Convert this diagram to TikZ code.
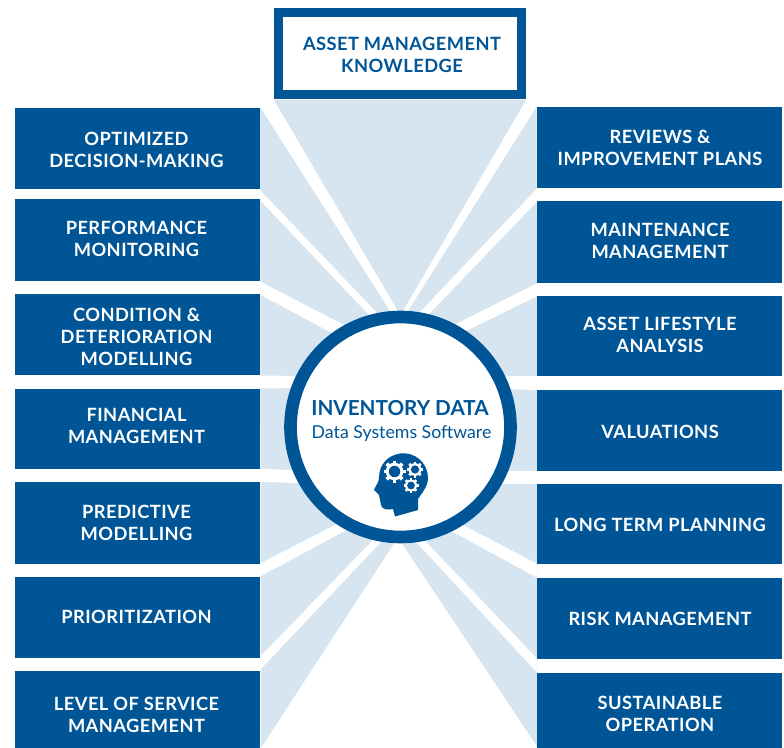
\documentclass[tikz,border=0pt]{standalone}
\usepackage{fontspec}
\setmainfont{Lato}
\newfontfamily\capsfont[LetterSpace=2.5]{Lato}
\usetikzlibrary{calc}
\definecolor{dblue}{HTML}{005596}
\definecolor{lblue}{HTML}{D6E5F0}
\newcommand{\gapstrip}[7]{\fill[white] (#1,#2) -- ($(#1,#2)!1.06!(#4,#5)$) -- ($(#1,#3)!1.06!(#6,#7)$) -- (#1,#3) -- cycle;}
\newcommand{\gearicon}[4]{%
  \begin{scope}[shift={(#1,#2)}]
    \foreach \a in {1,...,#4}{
      \fill[white,rotate=\a*360/#4] (-0.17*#3,0) rectangle (0.17*#3,#3);
    }
    \fill[white] (0,0) circle (0.8*#3);
    \fill[dblue] (0,0) circle (0.52*#3);
  \end{scope}}
% name, box x, box y, box height (pt), text x, text y, text
\newcommand{\panel}[7]{%
  \node[boxl,minimum height=#4] (#1) at (#2,#3) {};
  \node[capl,text=white] (#1t) at (#5,#6) {#7};}
\tikzset{
  x=0.75pt,y=-0.75pt,
  boxl/.style={fill=dblue,minimum width=183.75pt,inner sep=0pt,draw=none},
  capl/.style={font=\capsfont\fontsize{13.7pt}{16.5pt}\selectfont\bfseries,align=center,inner sep=0pt},
  fan/.style={fill=lblue,draw=none}
}
\begin{document}
\begin{tikzpicture}
\useasboundingbox (0,0) rectangle (784,748);
% fans
\fill[fan] (274,100) -- (526,100) -- (403,311) -- (398,311) -- cycle;
\fill[fan] (260,107) -- (390,311) -- (400,427) -- (393,545) -- (261,748) -- cycle;
\fill[fan] (536.5,107) -- (408,311) -- (400,427) -- (403,545) -- (538,748) -- cycle;
% white gaps, left
\gapstrip{259}{189}{199}{377}{313}{368}{314}
\gapstrip{259}{281}{294}{342}{324}{330}{332}
\gapstrip{259}{375.5}{388.5}{300}{376}{300}{388}
\gapstrip{259}{469}{482}{300}{470}{300}{483}
\gapstrip{259}{564}{577}{335}{525}{345}{531}
\gapstrip{259}{658}{671}{370}{543}{380}{543}
% white gaps, right
\gapstrip{537.5}{188}{201}{422}{310}{430}{313}
\gapstrip{537.5}{283}{296}{458}{323}{468}{330}
\gapstrip{537.5}{376}{390}{500}{376}{500}{389}
\gapstrip{537.5}{471}{484}{500}{471}{500}{484}
\gapstrip{537.5}{564}{578}{465}{526}{453}{532}
\gapstrip{537.5}{659}{673}{427}{543}{417}{543}
% left boxes
\panel{l1}{137.5}{148.5}{60.75pt}{136.5}{149.5}{OPTIMIZED\\DECISION-MAKING}
\panel{l2}{137.5}{240}{61.5pt}{136.5}{239}{PERFORMANCE\\MONITORING}
\panel{l3}{137.5}{334.5}{60.75pt}{136.5}{336.5}{CONDITION \&\\DETERIORATION\\MODELLING}
\panel{l4}{137.5}{429}{60pt}{136.5}{426}{FINANCIAL\\MANAGEMENT}
\panel{l5}{137.5}{523}{61.5pt}{136.5}{523}{PREDICTIVE\\MODELLING}
\panel{l6}{137.5}{617.5}{60.75pt}{136.5}{616.5}{PRIORITIZATION}
\panel{l7}{137.5}{709.5}{57.75pt}{136.5}{714.5}{LEVEL OF SERVICE\\MANAGEMENT}
% right boxes
\panel{r1}{659.5}{147.5}{60.75pt}{660}{147.5}{REVIEWS \&\\IMPROVEMENT PLANS}
\panel{r2}{659.5}{242}{61.5pt}{660}{241}{MAINTENANCE\\MANAGEMENT}
\panel{r3}{659.5}{336}{60pt}{660}{335}{ASSET LIFESTYLE\\ANALYSIS}
\panel{r4}{659.5}{430.5}{60.75pt}{660}{431.5}{VALUATIONS}
\panel{r5}{659.5}{524}{60pt}{660}{524.5}{LONG TERM PLANNING}
\panel{r6}{659.5}{618.5}{60.75pt}{660}{618.5}{RISK MANAGEMENT}
\panel{r7}{659.5}{710.5}{56.25pt}{660}{713.5}{SUSTAINABLE\\OPERATION}
% top box
\node[draw=dblue,fill=white,line width=6.75pt,minimum width=182.25pt,minimum height=61.5pt,inner sep=0pt] (top) at (400,54) {};
\node[capl,text=dblue] (topt) at (402,55) {ASSET MANAGEMENT\\KNOWLEDGE};
% circle
\node[circle,draw=dblue,fill=white,line width=9.5pt,minimum size=165pt,inner sep=0pt] (hub) at (400.5,427) {};
\node[text=dblue,font=\fontsize{15.5pt}{18pt}\selectfont\bfseries,inner sep=0pt] (hubt) at (400,408) {INVENTORY DATA};
\node[text=dblue,font=\fontsize{13.3pt}{15pt}\selectfont,inner sep=0pt] (hubs) at (401.5,433.5) {Data Systems Software};
% head
\fill[dblue] (400,453.5) .. controls (415,451.5) and (428,463) .. (428,478)
  .. controls (428,487) and (421,494) .. (418,499) -- (418,510) -- (395,516.5) -- (393,509)
  .. controls (388,510) and (382,510) .. (381,505) -- (379,495) -- (374,490)
  .. controls (376,485) and (379,482) .. (379,478)
  .. controls (379,464) and (388,455.5) .. (400,453.5) -- cycle;
\gearicon{394.5}{471.5}{11}{8}
\gearicon{415}{469.5}{8}{8}
\gearicon{411}{485.5}{7.5}{8}
\end{tikzpicture}
\end{document}
